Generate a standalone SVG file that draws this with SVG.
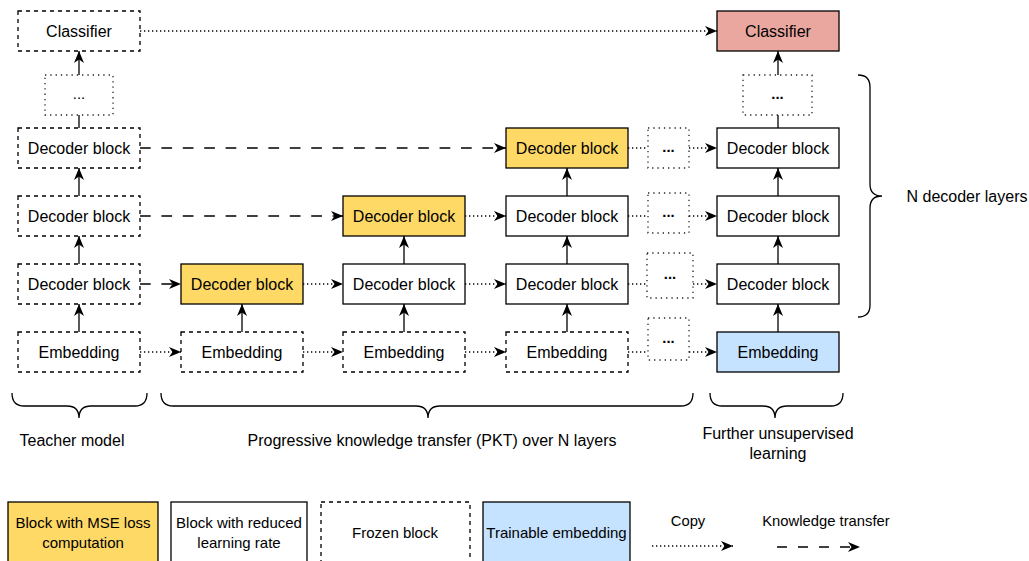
<svg xmlns="http://www.w3.org/2000/svg" width="1029" height="561" viewBox="0 0 1029 561">
<style>
text{font-family:"Liberation Sans",Arial,sans-serif;fill:#000;text-anchor:middle}
.t{font-size:16px}
.l{font-size:15px}
.s{font-size:14.8px}
.box{stroke:#000;stroke-width:1.3}
.frozen{fill:#fff;stroke:#000;stroke-width:1.3;stroke-dasharray:4 4}
.dots{fill:#fff;stroke:#222;stroke-width:1.3;stroke-dasharray:1.3 4}
.train{fill:#fff}
.mse{fill:#FFD966}
.emb{fill:#C5E2FF}
.cls{fill:#EAA79F}
.solid{fill:none;stroke:#000;stroke-width:1.3}
.copy{fill:none;stroke:#000;stroke-width:1.3;stroke-dasharray:1.3 2.7}
.kt{fill:none;stroke:#000;stroke-width:1.3;stroke-dasharray:10.7 10.7}
.brace{fill:none;stroke:#000;stroke-width:1.3}
.b{font-weight:bold}
</style>
<defs>
<marker id="ah" viewBox="0 0 12 10" refX="12" refY="5" markerWidth="12" markerHeight="10" markerUnits="userSpaceOnUse" orient="auto">
<path d="M0,0 L12,5 L0,10 L3.5,5 Z" fill="#000"/>
</marker>
</defs>

<g id="connectors">
<!-- teacher column -->
<line class="copy" x1="140" y1="31" x2="717" y2="31" marker-end="url(#ah)"/>
<line class="solid" x1="79" y1="75" x2="79" y2="51" marker-end="url(#ah)"/>
<line class="solid" x1="79" y1="128" x2="79" y2="115"/>
<line class="solid" x1="79" y1="196" x2="79" y2="168" marker-end="url(#ah)"/>
<line class="solid" x1="79" y1="264" x2="79" y2="236" marker-end="url(#ah)"/>
<line class="solid" x1="79" y1="332" x2="79" y2="304" marker-end="url(#ah)"/>
<!-- knowledge transfer -->
<line class="kt" x1="140" y1="148" x2="506" y2="148" marker-end="url(#ah)"/>
<line class="kt" x1="140" y1="216" x2="343" y2="216" marker-end="url(#ah)"/>
<line class="kt" x1="140" y1="284" x2="181" y2="284" marker-end="url(#ah)"/>
<line class="copy" x1="140" y1="352" x2="181" y2="352" marker-end="url(#ah)"/>
<!-- col2 -->
<line class="solid" x1="242" y1="332" x2="242" y2="304" marker-end="url(#ah)"/>
<line class="copy" x1="303" y1="284" x2="343" y2="284" marker-end="url(#ah)"/>
<line class="copy" x1="303" y1="352" x2="343" y2="352" marker-end="url(#ah)"/>
<!-- col3 -->
<line class="solid" x1="404" y1="332" x2="404" y2="304" marker-end="url(#ah)"/>
<line class="solid" x1="404" y1="264" x2="404" y2="236" marker-end="url(#ah)"/>
<line class="copy" x1="465" y1="216" x2="506" y2="216" marker-end="url(#ah)"/>
<line class="copy" x1="465" y1="284" x2="506" y2="284" marker-end="url(#ah)"/>
<line class="copy" x1="465" y1="352" x2="506" y2="352" marker-end="url(#ah)"/>
<!-- col4 -->
<line class="solid" x1="567" y1="332" x2="567" y2="304" marker-end="url(#ah)"/>
<line class="solid" x1="567" y1="264" x2="567" y2="236" marker-end="url(#ah)"/>
<line class="solid" x1="567" y1="196" x2="567" y2="168" marker-end="url(#ah)"/>
<line class="copy" x1="628" y1="148" x2="648" y2="148"/>
<line class="copy" x1="628" y1="216" x2="648" y2="216"/>
<line class="copy" x1="628" y1="284" x2="647" y2="284"/>
<line class="copy" x1="628" y1="352" x2="648" y2="352"/>
<line class="copy" x1="689" y1="148" x2="717" y2="148" marker-end="url(#ah)"/>
<line class="copy" x1="689" y1="216" x2="717" y2="216" marker-end="url(#ah)"/>
<line class="copy" x1="693" y1="284" x2="717" y2="284" marker-end="url(#ah)"/>
<line class="copy" x1="689" y1="352" x2="717" y2="352" marker-end="url(#ah)"/>
<!-- right column -->
<line class="solid" x1="778" y1="332" x2="778" y2="304" marker-end="url(#ah)"/>
<line class="solid" x1="778" y1="264" x2="778" y2="236" marker-end="url(#ah)"/>
<line class="solid" x1="778" y1="196" x2="778" y2="168" marker-end="url(#ah)"/>
<line class="solid" x1="778" y1="128" x2="778" y2="115"/>
<line class="solid" x1="778" y1="75" x2="778" y2="51" marker-end="url(#ah)"/>
</g>

<!-- teacher model -->
<g id="t-classifier"><rect class="frozen" x="18" y="11" width="122" height="40"/><text class="t" x="79" y="36.5">Classifier</text></g>
<g id="t-dots"><rect class="dots" x="45" y="75" width="68" height="40"/><text class="s" x="79" y="99">...</text></g>
<g id="t-dec3"><rect class="frozen" x="18" y="128" width="122" height="40"/><text class="t" x="79" y="153.5">Decoder block</text></g>
<g id="t-dec2"><rect class="frozen" x="18" y="196" width="122" height="40"/><text class="t" x="79" y="221.5">Decoder block</text></g>
<g id="t-dec1"><rect class="frozen" x="18" y="264" width="122" height="40"/><text class="t" x="79" y="289.5">Decoder block</text></g>
<g id="t-emb"><rect class="frozen" x="18" y="332" width="122" height="40"/><text class="t" x="79" y="357.5">Embedding</text></g>

<!-- column 2 -->
<g id="c2-dec1"><rect class="box mse" x="181" y="264" width="122" height="40"/><text class="t" x="242" y="289.5">Decoder block</text></g>
<g id="c2-emb"><rect class="frozen" x="181" y="332" width="122" height="40"/><text class="t" x="242" y="357.5">Embedding</text></g>

<!-- column 3 -->
<g id="c3-dec2"><rect class="box mse" x="343" y="196" width="122" height="40"/><text class="t" x="404" y="221.5">Decoder block</text></g>
<g id="c3-dec1"><rect class="box train" x="343" y="264" width="122" height="40"/><text class="t" x="404" y="289.5">Decoder block</text></g>
<g id="c3-emb"><rect class="frozen" x="343" y="332" width="122" height="40"/><text class="t" x="404" y="357.5">Embedding</text></g>

<!-- column 4 -->
<g id="c4-dec3"><rect class="box mse" x="506" y="128" width="122" height="40"/><text class="t" x="567" y="153.5">Decoder block</text></g>
<g id="c4-dec2"><rect class="box train" x="506" y="196" width="122" height="40"/><text class="t" x="567" y="221.5">Decoder block</text></g>
<g id="c4-dec1"><rect class="box train" x="506" y="264" width="122" height="40"/><text class="t" x="567" y="289.5">Decoder block</text></g>
<g id="c4-emb"><rect class="frozen" x="506" y="332" width="122" height="40"/><text class="t" x="567" y="357.5">Embedding</text></g>

<!-- dots column -->
<g id="d-dec3"><rect class="dots" x="648" y="128" width="41" height="40"/><text class="s b" x="668.5" y="152">...</text></g>
<g id="d-dec2"><rect class="dots" x="648" y="193" width="41" height="40"/><text class="s b" x="668.5" y="217">...</text></g>
<g id="d-dec1"><rect class="dots" x="647" y="253" width="46" height="45"/><text class="s b" x="670" y="279">...</text></g>
<g id="d-emb"><rect class="dots" x="648" y="318" width="41" height="42"/><text class="s b" x="668.5" y="343">...</text></g>

<!-- right column -->
<g id="r-classifier"><rect class="box cls" x="717" y="11" width="122" height="40"/><text class="t" x="778" y="36.5">Classifier</text></g>
<g id="r-dots"><rect class="dots" x="743" y="75" width="69" height="40"/><text class="s b" x="777.5" y="99">...</text></g>
<g id="r-dec3"><rect class="box train" x="717" y="128" width="122" height="40"/><text class="t" x="778" y="153.5">Decoder block</text></g>
<g id="r-dec2"><rect class="box train" x="717" y="196" width="122" height="40"/><text class="t" x="778" y="221.5">Decoder block</text></g>
<g id="r-dec1"><rect class="box train" x="717" y="264" width="122" height="40"/><text class="t" x="778" y="289.5">Decoder block</text></g>
<g id="r-emb"><rect class="box emb" x="717" y="332" width="122" height="40"/><text class="t" x="778" y="357.5">Embedding</text></g>

<!-- braces -->
<g id="brace-n">
<path class="brace" d="M858,75 Q870,75 870,87 L870,184 Q870,196 882,196 Q870,196 870,208 L870,305 Q870,317 858,317"/>
<text class="t" x="967" y="201.5">N decoder layers</text>
</g>
<g id="brace-teacher">
<path class="brace" d="M12,393 Q12,406 24,406 L67,406 Q79,406 79,418 Q79,406 91,406 L135,406 Q147,406 147,393"/>
<text class="t" x="72" y="445.5">Teacher model</text>
</g>
<g id="brace-pkt">
<path class="brace" d="M161,393 Q161,406 173,406 L416,406 Q428,406 428,418 Q428,406 440,406 L681,406 Q693,406 693,393"/>
<text class="t" x="432" y="445.5">Progressive knowledge transfer (PKT) over N layers</text>
</g>
<g id="brace-further">
<path class="brace" d="M710,393 Q710,406 722,406 L763,406 Q775,406 775,418 Q775,406 787,406 L831,406 Q843,406 843,393"/>
<text class="t" x="778" y="439">Further unsupervised</text>
<text class="t" x="778" y="459">learning</text>
</g>

<!-- legend -->
<g id="legend-mse"><rect class="box mse" x="8" y="502" width="150" height="70"/><text class="l" x="83" y="528">Block with MSE loss</text><text class="l" x="83" y="548">computation</text></g>
<g id="legend-reduced"><rect class="box train" x="171" y="502" width="136" height="70"/><text class="l" x="239" y="528">Block with reduced</text><text class="l" x="239" y="548">learning rate</text></g>
<g id="legend-frozen"><rect class="frozen" x="321" y="502" width="149" height="70"/><text class="l" x="395" y="538">Frozen block</text></g>
<g id="legend-emb"><rect class="box emb" x="483" y="502" width="147" height="70"/><text class="l" x="556.5" y="538">Trainable embedding</text></g>
<g id="legend-copy"><text class="s" x="688" y="526">Copy</text><line class="copy" x1="652" y1="546" x2="733" y2="546" marker-end="url(#ah)"/></g>
<g id="legend-kt"><text class="s" x="826" y="526">Knowledge transfer</text><line class="kt" x1="777" y1="547" x2="860" y2="547" style="stroke-dasharray:10 11"/><path d="M848,542 L860,547 L848,552 L851.5,547 Z" fill="#000"/></g>
</svg>
